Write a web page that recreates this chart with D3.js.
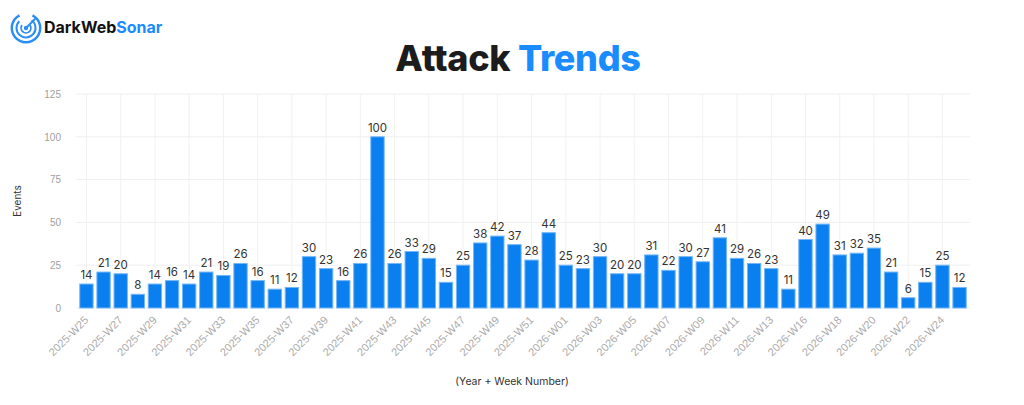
<!DOCTYPE html>
<html>
<head>
<meta charset="utf-8">
<script src="https://cdn.jsdelivr.net/npm/d3@7"></script>
<style>
  body { margin: 0; background: #fff; }
  svg { display: block; font-family: "Inter", "Noto Sans", sans-serif; }
</style>
</head>
<body>
<div id="chart"></div>
<script>
// Weeks shown on the x axis (2026-W14 has no data)
const weeks = [
  "2025-W25","2025-W26","2025-W27","2025-W28","2025-W29","2025-W30","2025-W31","2025-W32",
  "2025-W33","2025-W34","2025-W35","2025-W36","2025-W37","2025-W38","2025-W39","2025-W40",
  "2025-W41","2025-W42","2025-W43","2025-W44","2025-W45","2025-W46","2025-W47","2025-W48",
  "2025-W49","2025-W50","2025-W51","2025-W52",
  "2026-W01","2026-W02","2026-W03","2026-W04","2026-W05","2026-W06","2026-W07","2026-W08",
  "2026-W09","2026-W10","2026-W11","2026-W12","2026-W13","2026-W15","2026-W16","2026-W17",
  "2026-W18","2026-W19","2026-W20","2026-W21","2026-W22","2026-W23","2026-W24","2026-W25"
];
const events = [
  14, 21, 20, 8, 14, 16, 14, 21, 19, 26, 16, 11, 12, 30, 23, 16, 26, 100, 26, 33, 29, 15, 25, 38, 42, 37, 28, 44,
  25, 23, 30, 20, 20, 31, 22, 30, 27, 41, 29, 26, 23, 11, 40, 49, 31, 32, 35, 21, 6, 15, 25, 12
];
const yTicks = [0, 25, 50, 75, 100, 125];

const data = weeks.map((w, i) => ({week: w, value: events[i]}));

const W = 1024, H = 405;
const margin = {top: 94, right: 54, bottom: 97, left: 76};

const svg = d3.select("#chart")
  .append("svg")
  .attr("width", W)
  .attr("height", H);

// Scales
const x = d3.scaleBand()
  .domain(weeks)
  .range([margin.left, W - margin.right])
  .padding(0.22);
const y = d3.scaleLinear()
  .domain([0, 125])
  .range([H - margin.bottom, margin.top]);

// Every other week gets a label and a vertical grid line
const shownWeeks = weeks.filter((d, i) => i % 2 === 0);

// Grid
svg.append("g")
  .selectAll("line.h")
  .data(yTicks)
  .join("line")
  .attr("x1", margin.left)
  .attr("x2", W - margin.right)
  .attr("y1", d => y(d))
  .attr("y2", d => y(d))
  .attr("stroke", "#efefef");
svg.append("g")
  .selectAll("line.v")
  .data(shownWeeks)
  .join("line")
  .attr("x1", d => x(d) + x.bandwidth() / 2)
  .attr("x2", d => x(d) + x.bandwidth() / 2)
  .attr("y1", y(125))
  .attr("y2", y(0))
  .attr("stroke", "#f1f1f1");

// Y axis
const yAxis = svg.append("g")
  .attr("transform", `translate(${margin.left - 15},0)`)
  .call(d3.axisLeft(y).tickValues(yTicks).tickSize(0).tickPadding(0));
yAxis.select(".domain").remove();
yAxis.selectAll("text")
  .attr("fill", "#a0a0a0")
  .style("font-size", "10px");

// X axis
const xAxis = svg.append("g")
  .attr("transform", `translate(0,${y(0) + 10})`)
  .call(d3.axisBottom(x).tickValues(shownWeeks).tickSize(0).tickPadding(0));
xAxis.select(".domain").remove();
xAxis.selectAll("text")
  .attr("fill", "#ababab")
  .style("font-size", "11px")
  .attr("text-anchor", "end")
  .attr("dy", "0.35em")
  .attr("transform", "rotate(-45)");

// Bars
svg.append("g")
  .selectAll("rect")
  .data(data)
  .join("rect")
  .attr("x", d => x(d.week))
  .attr("y", d => y(d.value))
  .attr("width", x.bandwidth())
  .attr("height", d => y(0) - y(d.value))
  .attr("fill", "#0a7ff0")
  .attr("stroke", "#72b6f8")
  .attr("stroke-width", 1);

// Value labels
svg.append("g")
  .selectAll("text")
  .data(data)
  .join("text")
  .attr("x", d => x(d.week) + x.bandwidth() / 2)
  .attr("y", d => y(d.value) - 5)
  .attr("text-anchor", "middle")
  .attr("fill", "#333")
  .style("font-size", "11.5px")
  .text(d => d.value);

// Axis titles
svg.append("text")
  .attr("transform", "rotate(-90)")
  .attr("x", -(y(0) + y(125)) / 2)
  .attr("y", 21)
  .attr("text-anchor", "middle")
  .attr("fill", "#333")
  .style("font-size", "10px")
  .text("Events");

svg.append("text")
  .attr("x", W / 2)
  .attr("y", 385)
  .attr("text-anchor", "middle")
  .attr("fill", "#333")
  .style("font-size", "10.5px")
  .text("(Year + Week Number)");

// Title
const title = svg.append("text")
  .attr("x", 518)
  .attr("y", 71)
  .attr("text-anchor", "middle")
  .style("font-size", "36px")
  .style("font-weight", "800")
  .style("letter-spacing", "-0.3px");
title.append("tspan").attr("fill", "#1c1c1c").text("Attack ");
title.append("tspan").attr("fill", "#1a8cff").text("Trends");

// Logo
const logo = svg.append("g").attr("transform", "translate(26,28)");
const arc = d3.arc();
[[13, 15.5, -Math.PI * 1.85, -Math.PI * 0.15], [8.5, 10.5, -Math.PI * 1.8, -Math.PI * 0.25], [4, 5.8, -Math.PI * 1.7, -Math.PI * 0.3]]
  .forEach(([r0, r1, a0, a1]) => {
    logo.append("path")
      .attr("d", arc({innerRadius: r0, outerRadius: r1, startAngle: a0, endAngle: a1}))
      .attr("fill", "#2b8ef5");
  });
logo.append("line")
  .attr("x1", 0).attr("y1", 0).attr("x2", 9).attr("y2", -9)
  .attr("stroke", "#2b8ef5").attr("stroke-width", 2).attr("stroke-linecap", "round");
logo.append("circle").attr("r", 2.2).attr("fill", "#2b8ef5");

const brand = svg.append("text")
  .attr("x", 44)
  .attr("y", 33)
  .style("font-size", "16px")
  .style("font-weight", "700");
brand.append("tspan").attr("fill", "#111").text("DarkWeb");
brand.append("tspan").attr("fill", "#1a8cff").text("Sonar");
</script>
</body>
</html>
